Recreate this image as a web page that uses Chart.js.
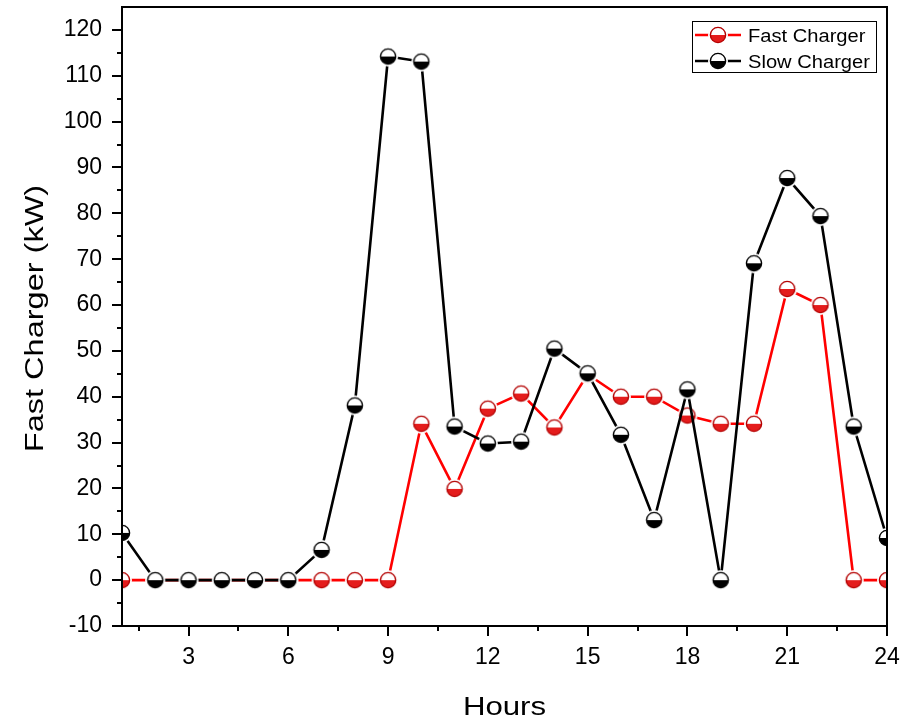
<!DOCTYPE html>
<html>
<head>
<meta charset="utf-8">
<script src="https://cdn.jsdelivr.net/npm/chart.js@4.4.0/dist/chart.umd.min.js"></script>
<style>
  html, body { margin: 0; padding: 0; background: #fff; }
</style>
</head>
<body>
<canvas id="myChart" width="905" height="720"></canvas>
<script>
// hourly charging load (kW)
const hours = [1, 2, 3, 4, 5, 6, 7, 8, 9, 10, 11, 12, 13, 14, 15, 16, 17, 18, 19, 20, 21, 22, 23, 24]
const fastCharger = [0, 0, 0, 0, 0, 0, 0, 0, 0, 34.1, 19.9, 37.4, 40.7, 33.3, 44.9, 40, 40, 35.9, 34.1, 34.1, 63.5, 60, 0, 0]
const slowCharger = [10.3, 0, 0, 0, 0, 0, 6.6, 38.1, 114.2, 113.1, 33.5, 29.8, 30.2, 50.5, 45.1, 31.7, 13.1, 41.6, 0, 69.1, 87.7, 79.4, 33.5, 9.2]

// axis ticks
const xTicks = [3, 6, 9, 12, 15, 18, 21, 24]
const xMinorTicks = [1.5, 4.5, 7.5, 10.5, 13.5, 16.5, 19.5, 22.5]
const yTicks = [-10, 0, 10, 20, 30, 40, 50, 60, 70, 80, 90, 100, 110, 120]
const yMinorTicks = [-5, 5, 15, 25, 35, 45, 55, 65, 75, 85, 95, 105, 115]

const FONT = '"Liberation Sans", Arial, sans-serif'

// half filled circle, white ring round it so the line stops short
function makeMarker(fill, edge) {
  let c = document.createElement('canvas')
  c.width = 22
  c.height = 22
  let g = c.getContext('2d')
  g.beginPath(); g.arc(11, 11, 10, 0, Math.PI * 2); g.fillStyle = '#fff'; g.fill()
  g.beginPath(); g.arc(11, 11, 7.6, 0, Math.PI); g.closePath(); g.fillStyle = fill; g.fill()
  g.beginPath(); g.arc(11, 11, 7.6, 0, Math.PI * 2); g.lineWidth = 1.4; g.strokeStyle = edge; g.stroke()
  return c
}

const redMarker = makeMarker('#e41c1c', '#b40000')
const blackMarker = makeMarker('#000', '#000')

function toPoints(values) {
  let pts = []
  for (let i = 0; i < hours.length; i++) {
    pts.push({ x: hours[i], y: values[i] })
  }
  return pts
}

// text with a horizontal stretch, optionally turned upright
function stretchedText(ctx, text, x, y, size, sx, rotate, align) {
  ctx.save()
  ctx.translate(x, y)
  if (rotate) ctx.rotate(-Math.PI / 2)
  ctx.scale(sx, 1)
  ctx.font = size + 'px ' + FONT
  ctx.fillStyle = '#000'
  ctx.textAlign = align || 'center'
  ctx.textBaseline = 'alphabetic'
  ctx.fillText(text, 0, 0)
  ctx.restore()
}

// fixed axis box sizes, no extra room for edge labels
function fixBox(s, w, h) {
  if (w) s.width = w
  if (h) s.height = h
  s.paddingTop = 0
  s.paddingBottom = 0
  s.paddingLeft = 0
  s.paddingRight = 0
}

// frame, tick marks, axis titles and the boxed legend
const decorations = {
  id: 'decorations',
  afterDraw(chart) {
    let ctx = chart.ctx
    let a = chart.chartArea
    let xs = chart.scales.x
    let ys = chart.scales.y

    ctx.save()
    ctx.strokeStyle = '#000'
    ctx.lineWidth = 2
    ctx.strokeRect(a.left, a.top, a.right - a.left, a.bottom - a.top)

    ctx.beginPath()
    xTicks.forEach(v => { let p = Math.round(xs.getPixelForValue(v)); ctx.moveTo(p, a.bottom); ctx.lineTo(p, a.bottom + 10) })
    xMinorTicks.forEach(v => { let p = Math.round(xs.getPixelForValue(v)); ctx.moveTo(p, a.bottom); ctx.lineTo(p, a.bottom + 5) })
    yTicks.forEach(v => { let p = Math.round(ys.getPixelForValue(v)); ctx.moveTo(a.left, p); ctx.lineTo(a.left - 10, p) })
    yMinorTicks.forEach(v => { let p = Math.round(ys.getPixelForValue(v)); ctx.moveTo(a.left, p); ctx.lineTo(a.left - 5, p) })
    ctx.stroke()
    ctx.restore()

    stretchedText(ctx, 'Hours', (a.left + a.right) / 2, 715, 26, 1.2, false)
    stretchedText(ctx, 'Fast Charger (kW)', 43, (a.top + a.bottom) / 2 + 2, 25, 1.3, true)

    // legend box in the upper right corner
    let bx = a.right - 195
    let by = a.top + 14
    ctx.save()
    ctx.strokeStyle = '#000'
    ctx.lineWidth = 1
    ctx.strokeRect(bx + 0.5, by + 0.5, 184, 51)
    let order = [1, 0]
    order.forEach((di, row) => {
      let ds = chart.data.datasets[di]
      let cy = by + 14 + row * 26
      ctx.beginPath()
      ctx.strokeStyle = ds.borderColor
      ctx.lineWidth = 2.5
      ctx.moveTo(bx + 3, cy)
      ctx.lineTo(bx + 49, cy)
      ctx.stroke()
      ctx.drawImage(ds.pointStyle, bx + 26 - 11, cy - 11)
      stretchedText(ctx, ds.label, bx + 56, cy + 6.5, 17.5, 1.15, false, 'left')
    })
    ctx.restore()
  }
}

var ctx = document.getElementById('myChart').getContext('2d')
var chart = new Chart(ctx, {
  type: 'line',
  data: {
    datasets: [{
      label: 'Slow Charger',
      data: toPoints(slowCharger),
      borderColor: '#000',
      borderWidth: 2.6,
      pointStyle: blackMarker,
      tension: 0
    }, {
      label: 'Fast Charger',
      data: toPoints(fastCharger),
      borderColor: '#ff0000',
      borderWidth: 2.6,
      pointStyle: redMarker,
      tension: 0
    }]
  },
  options: {
    responsive: false,
    animation: false,
    devicePixelRatio: 1,
    layout: { autoPadding: false, padding: { top: 7, right: 18, left: 0, bottom: 0 } },
    plugins: {
      legend: { display: false },
      tooltip: { enabled: false }
    },
    scales: {
      x: {
        type: 'linear',
        min: 1,
        max: 24,
        afterBuildTicks: s => { s.ticks = xTicks.map(v => ({ value: v })) },
        afterFit: s => fixBox(s, 0, 94),
        grid: { display: false, drawTicks: false },
        border: { display: false },
        ticks: { autoSkip: false, maxRotation: 0, padding: 18, color: '#000', font: { family: FONT, size: 23 } }
      },
      y: {
        type: 'linear',
        min: -10,
        max: 125,
        afterBuildTicks: s => { s.ticks = yTicks.map(v => ({ value: v })) },
        afterFit: s => fixBox(s, 122, 0),
        grid: { display: false, drawTicks: false },
        border: { display: false },
        ticks: { padding: 20, color: '#000', font: { family: FONT, size: 23 } }
      }
    }
  },
  plugins: [decorations]
})
</script>
</body>
</html>
